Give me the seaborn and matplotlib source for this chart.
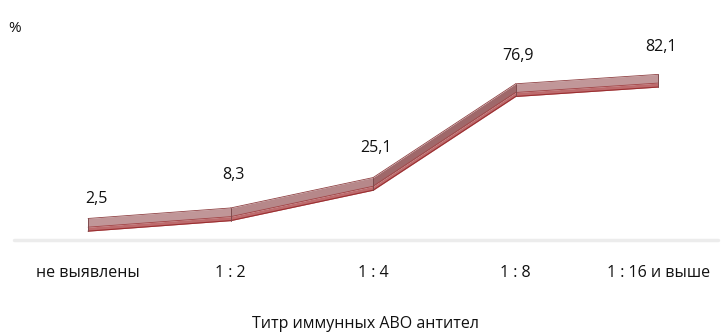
import matplotlib
matplotlib.use("Agg")
import matplotlib.pyplot as plt
import seaborn as sns
import numpy as np
import pandas as pd
from matplotlib.colors import to_rgb

categories = ["не выявлены", "1 : 2", "1 : 4", "1 : 8", "1 : 16 и выше"]
values = [2.5, 8.3, 25.1, 76.9, 82.1]
value_labels = ["2,5", "8,3", "25,1", "76,9", "82,1"]
x_title = "Титр иммунных АВО антител"
y_unit = "%"

sns.set_theme(style="white")
plt.rcParams["font.family"] = ["Open Sans", "DejaVu Sans"]

fig = plt.figure(figsize=(7.22, 3.35), dpi=100)
ax = fig.add_axes([14 / 722, 95 / 335, 704 / 722, 191.5 / 335])

df = pd.DataFrame({"pos": np.arange(len(categories)), "value": values})
pos = df["pos"].to_numpy()
val = df["value"].to_numpy(dtype=float)

# ribbon (pseudo 3D) geometry in data units
top_h = 3.6
mid_h = -1.2
bot_h = -3.4

light = np.array(to_rgb("#c9a3a5"))
dark = np.array(to_rgb("#9a6264"))
for i in range(len(pos) - 1):
    xs = pos[i:i + 2]
    ys = val[i:i + 2]
    slope = abs(ys[1] - ys[0]) / 60.0
    t = min(1.0, slope ** 0.7)
    col = light * (1 - t) + dark * t
    ax.fill_between(xs, ys + mid_h, ys + top_h, color=col, lw=0, zorder=3)
    ax.fill_between(xs, ys + bot_h, ys + mid_h, color="#bd6b6d", lw=0, zorder=3)
    ax.plot(xs, ys + top_h, color="#8e3f41", lw=0.6, zorder=4)
    ax.plot(xs, ys + bot_h, color="#9b2f31", lw=0.8, zorder=4)

sns.lineplot(data=df, x="pos", y="value", ax=ax, color="#a34446",
             lw=0.6, zorder=4, legend=False)
ax.lines[-1].set_ydata(val + mid_h)

# joint / end edges
for p, v in zip(pos, val):
    ax.plot([p, p], [v + bot_h, v + top_h], color="#7e4a4c", lw=0.7, zorder=5)

dy = [19, 28.5, 26, 24.5, 24.5]
for p, v, lab, d in zip(pos, val, value_labels, dy):
    ax.annotate(lab, (p, v), xytext=(6 if p == 0 else 2, d),
                textcoords="offset points", ha="center", va="center",
                fontsize=11.5, color="#111111")

ax.set_xlim(-0.52, 4.42)
ax.set_ylim(-5.8, 100)
ax.axhline(-5.8, color="#ececec", lw=2.5, zorder=1, clip_on=False)
ax.set_xticks(pos)
ax.set_xticklabels(categories, fontsize=11.5, color="#111111")
ax.tick_params(axis="x", length=0, pad=18)
ax.set_yticks([])
ax.set_xlabel(x_title, fontsize=11.5, color="#111111", labelpad=25)
ax.set_ylabel("")
for s in ax.spines.values():
    s.set_visible(False)

fig.text(15 / 722, 1 - 28 / 335, y_unit, fontsize=11, ha="center", va="center",
         color="#111111")

fig.savefig("out.png", dpi=100)
